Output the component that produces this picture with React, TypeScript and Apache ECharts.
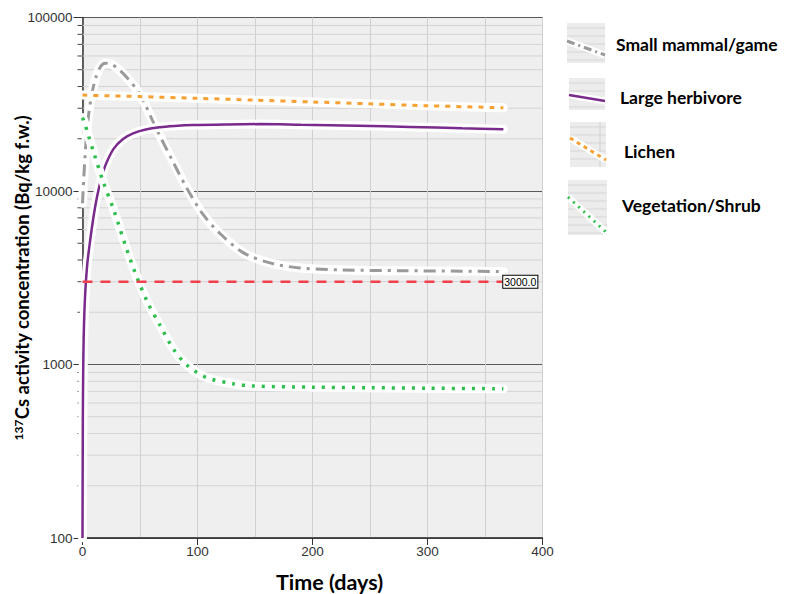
import React, { useEffect, useRef } from "react";
import * as echarts from "echarts";

// ---- data ----
const smallDays = [0, 1, 3, 5, 8, 12, 16, 20, 25, 30, 38, 50, 64, 79, 91, 105, 120, 140, 163, 189, 226, 280, 330, 366];
const smallVals = [8500, 11500, 19000, 26500, 36000, 46000, 52500, 54500, 53800, 51200, 45600, 36000, 23000, 14600, 10300, 7300, 5650, 4400, 3850, 3600, 3510, 3470, 3450, 3430];

const herbDays = [0, 0.3, 0.6, 1, 2, 4, 6.5, 10, 13, 16, 20, 27, 35, 44, 55, 67, 80, 96, 125, 154, 190, 240, 285, 330, 366];
const herbVals = [100, 500, 900, 1400, 2300, 3700, 5100, 7400, 9500, 11600, 14100, 17500, 19900, 21500, 22600, 23300, 23700, 24000, 24200, 24300, 24100, 23800, 23400, 23000, 22700];

const lichenDays = [0, 50, 100, 150, 200, 250, 300, 366];
const lichenVals = [35700, 35000, 34200, 33400, 32600, 31800, 31000, 30200];

const vegDays = [0, 2, 5, 10, 18, 28, 38, 48, 57, 67, 79, 91, 108, 131, 148, 200, 250, 300, 366];
const vegVals = [26500, 24500, 21000, 16500, 11300, 7500, 4700, 3100, 2250, 1700, 1230, 990, 840, 775, 752, 740, 735, 730, 725];

const limitDays = [0, 365];
const limitVals = [3000, 3000];
const limitLabel = "3000.0";

const yMinorValues = [200, 300, 400, 500, 600, 700, 800, 900, 2000, 3000, 4000, 5000, 6000, 7000, 8000, 9000, 20000, 30000, 40000, 50000, 60000, 70000, 80000, 90000];

const seriesNames = ["Small mammal/game", "Large herbivore", "Lichen", "Vegetation/Shrub"];
const xTitle = "Time (days)";
const yTitle = "Cs activity concentration (Bq/kg f.w.)";
const yTitleSup = "137";

const zip = (a: number[], b: number[]) => a.map((d, i) => [d, b[i]]);

const GRAY = "#9a9a9a";
const PURPLE = "#7a2a8c";
const ORANGE = "#f7a134";
const GREEN = "#2fbf4f";
const RED = "#f0404c";

export default function App() {
  const ref = useRef<HTMLDivElement>(null);
  useEffect(() => {
    if (!ref.current) return;
    const chart = echarts.init(ref.current, undefined, { renderer: "svg" });

    const curves = [
      { name: seriesNames[0], data: zip(smallDays, smallVals), color: GRAY, width: 3, dash: [12, 6, 3, 6] },
      { name: seriesNames[1], data: zip(herbDays, herbVals), color: PURPLE, width: 2.5, dash: "solid" as any },
      { name: seriesNames[2], data: zip(lichenDays, lichenVals), color: ORANGE, width: 3, dash: [5, 6] },
      { name: seriesNames[3], data: zip(vegDays, vegVals), color: GREEN, width: 3.5, dash: [3, 7] },
    ];

    const series: any[] = [
      {
        type: "custom",
        silent: true,
        z: 1,
        clip: false,
        data: yMinorValues.map((v) => [0, v]),
        encode: { x: 0, y: 1 },
        renderItem: (params: any, api: any) => {
          const v = api.value(1);
          const p = api.coord([0, v]);
          const q = api.coord([400, v]);
          return {
            type: "group",
            children: [
              { type: "line", shape: { x1: p[0], y1: p[1], x2: q[0], y2: q[1] }, style: { stroke: "#d3d3d3", lineWidth: 1 } },
              { type: "line", shape: { x1: p[0] - 5, y1: p[1], x2: p[0], y2: p[1] }, style: { stroke: "#444", lineWidth: 1 } },
            ],
          };
        },
      },
    ];
    curves.forEach((c) => {
      series.push({
        type: "line",
        name: c.name + " halo",
        data: c.data,
        showSymbol: false,
        silent: true,
        smooth: 0.3,
        lineStyle: { color: "#ffffff", width: 9, cap: "round", join: "round" },
        z: 3,
      });
      series.push({
        type: "line",
        name: c.name,
        data: c.data,
        showSymbol: false,
        silent: true,
        smooth: 0.3,
        lineStyle: { color: c.color, width: c.width, type: c.dash },
        z: 3,
      });
    });
    series.push({
      type: "line",
      name: "limit",
      data: zip(limitDays, limitVals),
      showSymbol: false,
      silent: true,
      lineStyle: { color: RED, width: 2.5, type: [10, 8] },
      z: 4,
      endLabel: {
        show: true,
        formatter: () => limitLabel,
        distance: 1,
        fontFamily: "Liberation Sans",
        fontSize: 10.5,
        color: "#000",
        backgroundColor: "#fff",
        borderColor: "#000",
        borderWidth: 1,
        padding: [1, 1, 0, 1],
      },
    });

    const legendItems = [
      { y: 23, h: 40, x1: 567, y1: 41, x2: 605, y2: 55, color: GRAY, width: 3, dash: [8, 4, 2, 4], vline: false, tx: 616, ty: 44 },
      { y: 78, h: 32, x1: 569, y1: 95, x2: 605, y2: 101, color: PURPLE, width: 2.5, dash: null, vline: false, tx: 620, ty: 97 },
      { y: 122, h: 45, x1: 570, y1: 138, x2: 606, y2: 160, color: ORANGE, width: 3, dash: [4, 4], vline: true, tx: 624, ty: 151 },
      { y: 180, h: 55, x1: 568, y1: 197, x2: 607, y2: 233, color: GREEN, width: 3, dash: [2, 5], vline: false, tx: 622, ty: 205 },
    ];
    const graphic: any[] = [];
    legendItems.forEach((it, i) => {
      const bx = it.x1;
      const bw = it.x2 - it.x1;
      graphic.push({ type: "rect", shape: { x: bx, y: it.y, width: bw, height: it.h }, style: { fill: "#ececec" }, silent: true });
      for (let yy = it.y + 5; yy < it.y + it.h; yy += 8) {
        graphic.push({ type: "line", shape: { x1: bx, y1: yy, x2: bx + bw, y2: yy }, style: { stroke: "#d6d6d6", lineWidth: 1 }, silent: true });
      }
      if (it.vline) {
        graphic.push({ type: "line", shape: { x1: bx + bw - 6, y1: it.y, x2: bx + bw - 6, y2: it.y + it.h }, style: { stroke: "#d0d0d0", lineWidth: 1 }, silent: true });
      }
      graphic.push({ type: "line", shape: { x1: it.x1, y1: it.y1, x2: it.x2, y2: it.y2 }, style: { stroke: "#fff", lineWidth: 7 }, silent: true });
      graphic.push({ type: "line", shape: { x1: it.x1, y1: it.y1, x2: it.x2, y2: it.y2 }, style: { stroke: it.color, lineWidth: it.width, lineDash: it.dash || undefined }, silent: true });
      graphic.push({
        type: "text",
        x: it.tx,
        y: it.ty,
        style: { text: seriesNames[i], fontFamily: "Lato", fontWeight: "bold", fontSize: 17.5, fill: "#000", verticalAlign: "middle" },
        silent: true,
      });
    });

    chart.setOption({
      animation: false,
      backgroundColor: "#ffffff",
      grid: {
        left: 82.5,
        right: 242.5,
        top: 17.5,
        bottom: 56,
        show: true,
        containLabel: false,
        outerBoundsMode: "none",
        backgroundColor: "#efefef",
        borderColor: "#555",
        borderWidth: 1,
      },
      xAxis: {
        type: "value",
        min: 0,
        max: 400,
        interval: 100,
        name: xTitle,
        nameLocation: "middle",
        nameGap: 33,
        nameTextStyle: { fontFamily: "Lato", fontWeight: "bold", fontSize: 21.5, color: "#000", padding: [0, 0, 0, 34] },
        axisLine: { show: true, lineStyle: { color: "#333", width: 1.5 } },
        axisTick: { show: true, length: 7, lineStyle: { color: "#333" } },
        axisLabel: { fontFamily: "Liberation Sans", fontSize: 13.5, color: "#333", margin: 6 },
        splitLine: { show: true, lineStyle: { color: "#d0d0d0", width: 1 } },
        minorTick: { show: false, splitNumber: 2 },
        minorSplitLine: { show: true, lineStyle: { color: "#d0d0d0", width: 1 } },
      },
      yAxis: {
        type: "log",
        logBase: 10,
        min: 100,
        max: 100000,
        name: `{sup|${yTitleSup}}{b|${yTitle}}`,
        nameLocation: "middle",
        nameGap: 51,
        nameMoveOverlap: false,
        nameRotate: 90,
        nameTextStyle: {
          rich: {
            sup: { fontFamily: "Lato", fontWeight: "bold", fontSize: 12, color: "#000", verticalAlign: "top" },
            b: { fontFamily: "Lato", fontWeight: "bold", fontSize: 18.5, color: "#000" },
          },
        },
        axisLine: { show: true, lineStyle: { color: "#333", width: 1.5 } },
        axisTick: { show: true, length: 9, lineStyle: { color: "#333" } },
        axisLabel: {
          fontFamily: "Liberation Sans",
          fontSize: 13.5,
          color: "#333",
          margin: 10,
          formatter: (v: number) => String(Math.round(v)),
        },
        splitLine: { show: true, lineStyle: { color: "#5a5a5a", width: 1.2 } },
        minorTick: { show: false },
        minorSplitLine: { show: false },
      },
      series,
      graphic,
    });
    return () => chart.dispose();
  }, []);
  return <div ref={ref} style={{ width: 785, height: 594, position: "absolute", left: 0, top: 0 }} />;
}
